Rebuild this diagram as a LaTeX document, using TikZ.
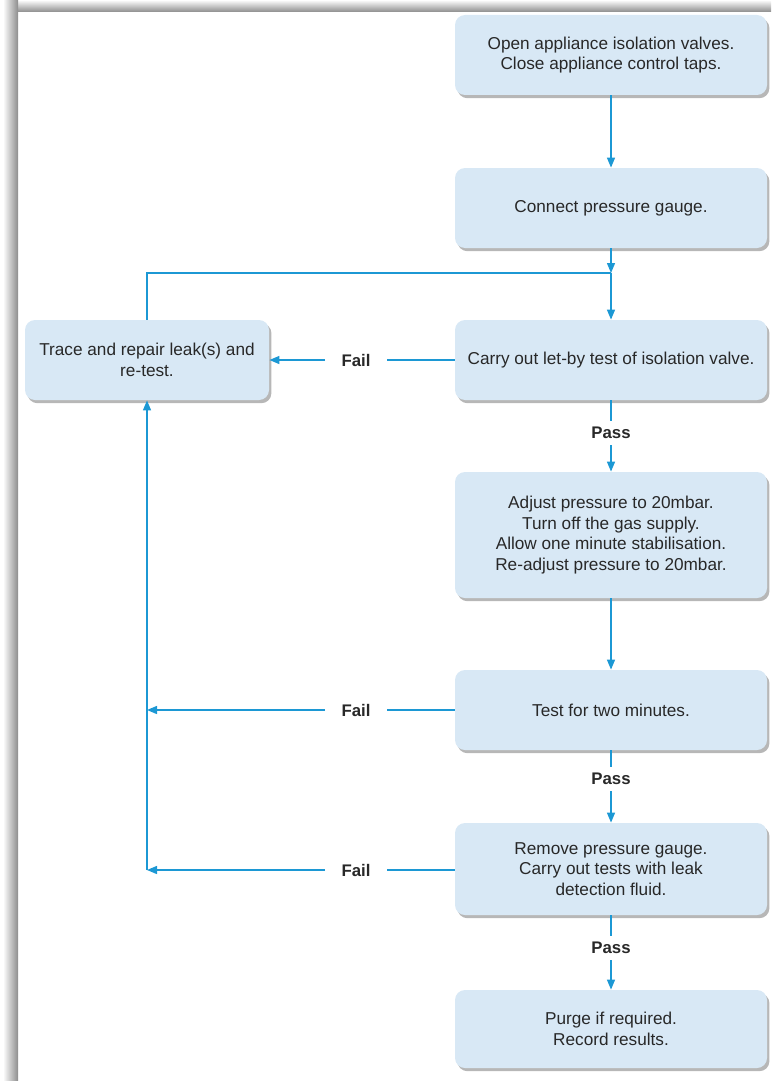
\documentclass[tikz,border=0pt]{standalone}
\usepackage{fontspec}
\setmainfont{Liberation Sans}
\usetikzlibrary{arrows.meta,shadows}
\definecolor{boxblue}{RGB}{216,232,245}
\definecolor{flowblue}{RGB}{28,152,212}
\definecolor{inkgrey}{RGB}{40,40,40}
\tikzset{
  stage/.style={rounded corners=5pt,fill=boxblue,minimum width=156pt,minimum height=40pt,
    align=center,text=inkgrey,font=\fontsize{8.6}{10.3}\selectfont,
    drop shadow={shadow xshift=1.2pt,shadow yshift=-1.6pt,opacity=0.4,fill=black!70}},
  flow/.style={draw=flowblue,line width=0.7pt},
  flowarrow/.style={-{Triangle[length=5pt,width=4pt]}},
  verdict/.style={text=inkgrey,font=\bfseries\fontsize{8.4}{10}\selectfont,inner xsep=8pt,inner ysep=3pt}
}
\begin{document}
\begin{tikzpicture}[x=0.5pt,y=-0.5pt]
  \useasboundingbox (0,0) rectangle (771,1081);
  % page frame
  \shade[left color=white,right color=black!45] (3,12) rectangle (18,1081);
  \shade[top color=white,bottom color=black!45] (18,0) rectangle (771,12);
  \shade[left color=white,right color=black!45] (3,0) rectangle (18,12);

  \node[stage] (open) at (611,55) {Open appliance isolation valves.\\Close appliance control taps.};
  \node[stage] (gauge) at (611,208) {Connect pressure gauge.};
  \node[stage] (letby) at (611,360) {Carry out let-by test of isolation valve.};
  \node[stage,minimum width=122pt] (trace) at (147,360) {Trace and repair leak(s) and\\re-test.};
  \node[stage,minimum height=63pt] (adjust) at (611,535) {Adjust pressure to 20mbar.\\Turn off the gas supply.\\Allow one minute stabilisation.\\Re-adjust pressure to 20mbar.};
  \node[stage] (twomin) at (611,710) {Test for two minutes.};
  \node[stage,minimum height=46pt] (fluid) at (611,869) {Remove pressure gauge.\\Carry out tests with leak\\detection fluid.};
  \node[stage,minimum height=39pt] (purge) at (611,1029) {Purge if required.\\Record results.};

  \node[verdict] (pass1) at (611,433) {Pass};
  \node[verdict] (pass2) at (611,779) {Pass};
  \node[verdict] (pass3) at (611,948) {Pass};
  \node[verdict] (fail1) at (356,360) {Fail};
  \node[verdict] (fail2) at (356,710) {Fail};
  \node[verdict] (fail3) at (356,870) {Fail};
  \coordinate (junction) at (611,273);

  % main line
  \draw[flow,flowarrow] (open) -- (gauge);
  \draw[flow,flowarrow] (gauge) -- (junction);
  \draw[flow,flowarrow] (junction) -- (letby);
  \draw[flow] (trace.north) |- (junction);
  \draw[flow] (letby) -- (pass1);
  \draw[flow,flowarrow] (pass1) -- (adjust);
  \draw[flow,flowarrow] (adjust) -- (twomin);
  \draw[flow] (twomin) -- (pass2);
  \draw[flow,flowarrow] (pass2) -- (fluid);
  \draw[flow] (fluid) -- (pass3);
  \draw[flow,flowarrow] (pass3) -- (purge);

  % fail branches
  \draw[flow] (letby) -- (fail1);
  \draw[flow,flowarrow] (fail1) -- (trace);
  \draw[flow] (twomin) -- (fail2);
  \draw[flow,flowarrow] (fail2) -- (fail2 -| trace);
  \draw[flow] (fluid.west |- fail3) -- (fail3);
  \draw[flow,flowarrow] (fail3) -- (fail3 -| trace);
  \draw[flow,flowarrow] (fail3 -| trace) -- (trace);
\end{tikzpicture}
\end{document}
